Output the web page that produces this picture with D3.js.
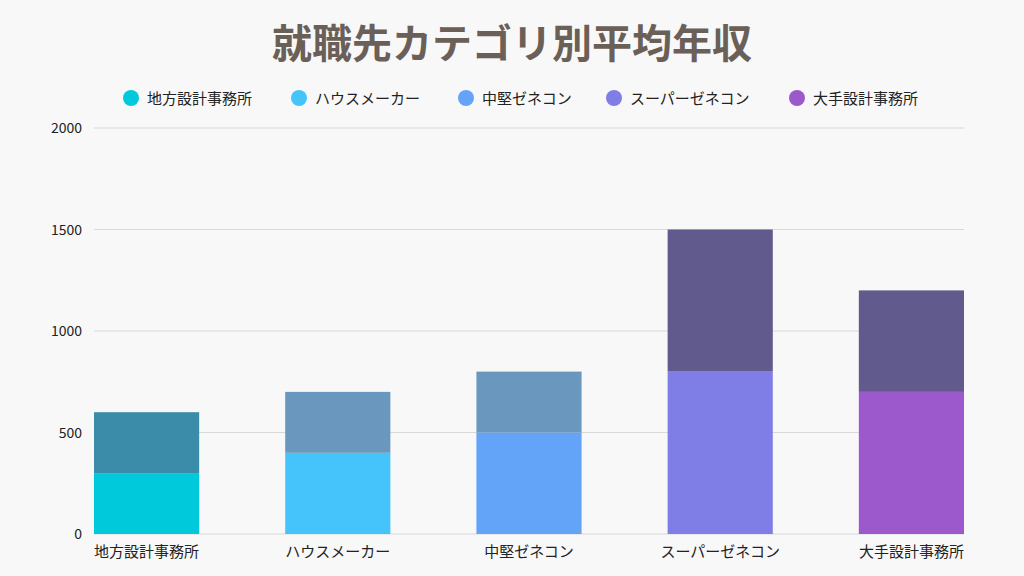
<!DOCTYPE html><html><head><meta charset="utf-8"><script src="https://cdn.jsdelivr.net/npm/d3@7"></script>
<style>body{margin:0;background:#f8f8f8}svg{font-family:"Noto Sans CJK JP","Noto Sans",sans-serif}</style></head><body>
<svg id="c" width="1024" height="576"></svg>
<script>
const categories=["地方設計事務所","ハウスメーカー","中堅ゼネコン","スーパーゼネコン","大手設計事務所"];
const baseValues=[300,400,500,800,700];
const extraValues=[300,300,300,700,500];
const baseColors=["#00c9db","#45c4fb","#63a4f9","#7f7ee6","#9b59cc"];
const extraColors=["#3a8ca8","#6a97bd","#6a97bd","#615a8c","#615a8c"];
const yTicks=[0,500,1000,1500,2000];
const svg=d3.select("#c");
svg.append("rect").attr("width",1024).attr("height",576).attr("fill","#f8f8f8");
const x=d3.scaleBand().domain(categories).range([94,964]).paddingInner(0.45).paddingOuter(0);
const y=d3.scaleLinear().domain([0,2000]).range([534,128]);
svg.append("text").attr("x",512).attr("y",58).attr("text-anchor","middle").attr("font-size",40).attr("font-weight","bold").attr("fill","#6b6058").text("就職先カテゴリ別平均年収");
const lg=svg.append("g");
const lx=[131,299,466,614,797];
categories.forEach((c,i)=>{lg.append("circle").attr("cx",lx[i]).attr("cy",98).attr("r",8).attr("fill",baseColors[i]);
lg.append("text").attr("x",lx[i]+16).attr("y",104).attr("font-size",15).attr("fill","#222").text(c);});
yTicks.forEach(t=>{svg.append("line").attr("x1",94).attr("x2",964).attr("y1",y(t)).attr("y2",y(t)).attr("stroke","#d8d8d8");
svg.append("text").attr("x",82).attr("y",y(t)+5).attr("text-anchor","end").attr("font-size",14).attr("fill","#222").text(t);});
categories.forEach((c,i)=>{
svg.append("rect").attr("x",x(c)).attr("width",x.bandwidth()).attr("y",y(baseValues[i])).attr("height",y(0)-y(baseValues[i])).attr("fill",baseColors[i]);
svg.append("rect").attr("x",x(c)).attr("width",x.bandwidth()).attr("y",y(baseValues[i]+extraValues[i])).attr("height",y(baseValues[i])-y(baseValues[i]+extraValues[i])).attr("fill",extraColors[i]);
svg.append("text").attr("x",x(c)+x.bandwidth()/2).attr("y",557).attr("text-anchor","middle").attr("font-size",15).attr("fill","#222").text(c);
});
</script></body></html>
